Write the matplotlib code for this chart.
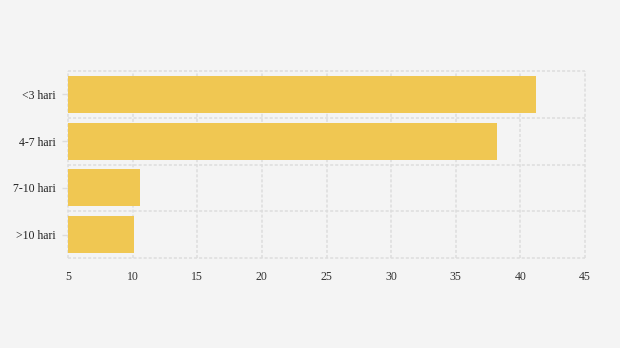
import matplotlib
matplotlib.use("Agg")
import matplotlib.pyplot as plt
import numpy as np

kategori = ["<3 hari", "4-7 hari", "7-10 hari", ">10 hari"]
nilai = [41.2, 38.2, 10.6, 10.1]
x_ticks = [5, 10, 15, 20, 25, 30, 35, 40, 45]

plt.rcParams["font.family"] = ["Liberation Serif", "DejaVu Serif"]

fig = plt.figure(figsize=(6.2, 3.48), dpi=100, facecolor="#f4f4f4")
ax = fig.add_axes([68 / 620, 1 - 258 / 348, 517 / 620, 187 / 348])
ax.set_facecolor("#f4f4f4")

pos = np.arange(len(kategori))
ax.barh(pos, np.array(nilai) - 5, left=5, height=0.79, color="#f0c752", zorder=3)

ax.set_xlim(5, 45)
ax.set_ylim(len(kategori) - 0.5, -0.5)
ax.set_xticks(x_ticks)
ax.set_xticklabels([str(v) for v in x_ticks])
ax.set_yticks(pos)
ax.set_yticklabels(kategori)
ax.set_yticks(np.arange(-0.5, len(kategori), 1), minor=True)

gaya = dict(color="#dddddd", linestyle=(0, (2, 1.3)), linewidth=1.1, zorder=0)
ax.grid(True, axis="x", which="major", **gaya)
ax.grid(True, axis="y", which="minor", **gaya)
ax.grid(False, axis="y", which="major")
for gl in ax.get_xgridlines() + [t.gridline for t in ax.yaxis.get_minor_ticks()]:
    gl.set_clip_on(False)

for s in ax.spines.values():
    s.set_visible(False)

ax.tick_params(axis="x", length=0, pad=9, labelsize=8.5, colors="#333333")
ax.tick_params(axis="y", which="major", length=4.5, width=1, color="#dddddd", pad=4.5, labelsize=8.5, labelcolor="#222222")
ax.tick_params(axis="y", which="minor", length=0)

fig.savefig("out.png", dpi=100, facecolor=fig.get_facecolor())
